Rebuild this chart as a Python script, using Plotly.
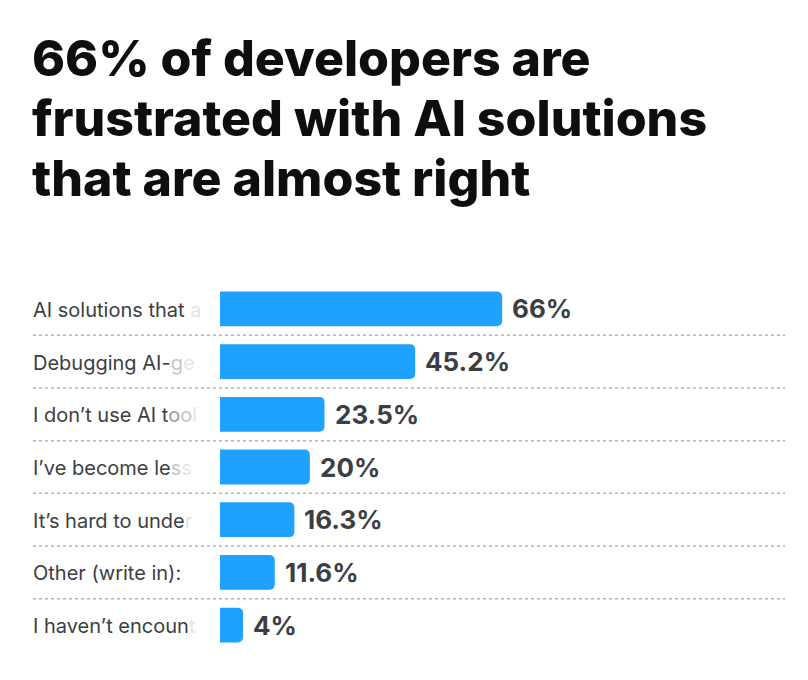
import plotly.graph_objects as go

title_lines = [
    "66% of developers are",
    "frustrated with AI solutions",
    "that are almost right",
]

# answers as they show up in the (clipped) label column
labels = [
    "AI solutions that a",
    "Debugging AI-ge",
    "I don’t use AI tool",
    "I’ve become less",
    "It’s hard to under",
    "Other (write in):",
    "I haven’t encount",
]
fade_chars = [1, 2, 3, 2, 1, 0, 1]   # trailing chars that fade out
values = [66, 45.2, 23.5, 20, 16.3, 11.6, 4]
value_text = ["66%", "45.2%", "23.5%", "20%", "16.3%", "11.6%", "4%"]

MIN_STUB = 1.5  # bars always keep a small visible stub
BAR = "#1ea1ff"
TXT = "#3b3e43"
FADES = ["#9a9ca0", "#c4c6c9", "#e4e5e7"]
W, H = 808, 680
OFF = 8  # page margin of the html body

def faded(text, n):
    if n == 0:
        return text
    head, tail = text[:-n], text[-n:]
    out = head
    for i, ch in enumerate(tail):
        out += '<span style="color:%s">%s</span>' % (FADES[len(FADES) - n + i], ch)
    return out

def px(x):
    return (x - OFF) / W

def py(y):
    return 1 - (y - OFF) / H

ypos = list(range(len(labels)))

fig = go.Figure()
fig.add_trace(go.Bar(
    x=[v + MIN_STUB for v in values],
    y=ypos,
    orientation="h",
    width=0.66,
    marker=dict(color=BAR, cornerradius=5, line=dict(width=0)),
    hoverinfo="skip",
))

for i, (lab, v, t) in enumerate(zip(labels, values, value_text)):
    fig.add_annotation(x=px(33), xref="paper", y=i, yref="y",
                       text=faded(lab, fade_chars[i]), showarrow=False,
                       xanchor="left", yanchor="middle", xshift=-2, yshift=-1,
                       font=dict(family="Inter", size=20, color=TXT))
    fig.add_annotation(x=v + MIN_STUB, y=i, text=t, showarrow=False,
                       xanchor="left", yanchor="middle", xshift=8,
                       font=dict(family="Inter", size=26, color=TXT, weight=700))
    if i < len(labels) - 1:
        fig.add_shape(type="line", xref="paper", x0=px(33), x1=px(785),
                      y0=i + 0.5, y1=i + 0.5,
                      line=dict(color="#b4b4b4", width=1.5, dash="3px,3px"))

for k, line in enumerate(title_lines):
    fig.add_annotation(x=px(33), xref="paper", y=py(58 + 60 * k), yref="paper",
                       text=line, showarrow=False,
                       xanchor="left", yanchor="middle", xshift=-3,
                       font=dict(family="Inter", size=50, color="#0d0e10", weight=800))

fig.update_xaxes(domain=[px(220), 1], range=[0, (W - 220 + OFF) / 4.18],
                 visible=False, fixedrange=True)
fig.update_yaxes(domain=[py(651.5), py(282.5)], range=[6.5, -0.5],
                 visible=False, fixedrange=True)
fig.update_layout(
    width=W, height=H,
    margin=dict(l=0, r=0, t=0, b=0),
    paper_bgcolor="white", plot_bgcolor="white",
    showlegend=False,
)

fig.write_html("out.html")
